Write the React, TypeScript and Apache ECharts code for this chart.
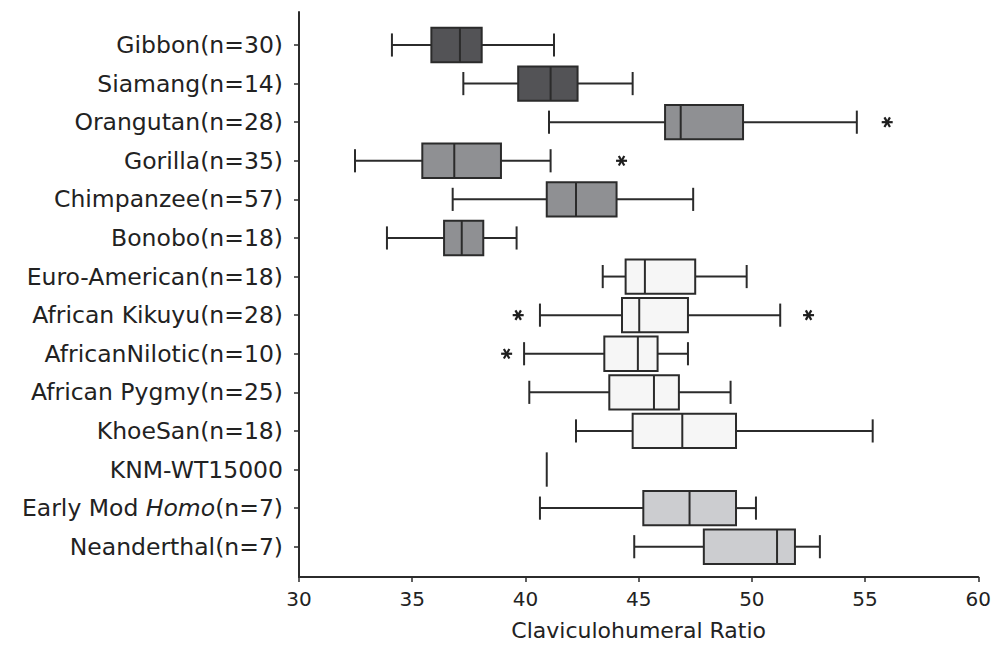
import React, { useEffect, useRef } from "react";
import * as echarts from "echarts";

// ---------- data ----------
const categories = [
  "Gibbon(n=30)",
  "Siamang(n=14)",
  "Orangutan(n=28)",
  "Gorilla(n=35)",
  "Chimpanzee(n=57)",
  "Bonobo(n=18)",
  "Euro-American(n=18)",
  "African Kikuyu(n=28)",
  "AfricanNilotic(n=10)",
  "African Pygmy(n=25)",
  "KhoeSan(n=18)",
  "KNM-WT15000",
  "Early Mod Homo(n=7)",
  "Neanderthal(n=7)",
];
const lowWhisker = [34.1, 37.25, 41.03, 32.47, 36.78, 33.88, 43.4, 40.63, 39.93, 40.16, 42.22, 40.93, 40.63, 44.79];
const q1 = [35.84, 39.67, 46.15, 35.44, 40.93, 36.4, 44.41, 44.25, 43.47, 43.69, 44.72, 40.93, 45.19, 47.86];
const median = [37.1, 41.1, 46.84, 36.85, 42.22, 37.18, 45.26, 45.01, 44.95, 45.66, 46.91, 40.93, 47.23, 51.09];
const q3 = [38.06, 42.29, 49.59, 38.91, 44.01, 38.13, 47.48, 47.16, 45.82, 46.76, 49.28, 40.93, 49.28, 51.88];
const highWhisker = [41.25, 44.72, 54.61, 41.1, 47.39, 39.6, 49.75, 51.23, 47.16, 49.04, 55.31, 40.93, 50.16, 52.98];
const groups = [
  "lesserApe", "lesserApe",
  "greatApe", "greatApe", "greatApe", "greatApe",
  "modernHuman", "modernHuman", "modernHuman", "modernHuman", "modernHuman",
  "fossil", "fossil", "fossil",
];
const outlierCategory = [2, 3, 7, 7, 8];
const outlierValue = [55.95, 44.23, 39.67, 52.48, 39.16];
const xTicks = [30, 35, 40, 45, 50, 55, 60];
const xAxisTitle = "Claviculohumeral Ratio";

// ---------- styles ----------
const groupFill: Record<string, string> = {
  lesserApe: "#535356",
  greatApe: "#8f9093",
  modernHuman: "#f6f6f6",
  fossil: "#cccdd0",
};
const INK = "#2b2b2b";
const FONT = "DejaVu Sans";

export default function App() {
  const ref = useRef<HTMLDivElement>(null);

  useEffect(() => {
    if (!ref.current) return;
    const chart = echarts.init(ref.current, undefined, { renderer: "svg" });

    const boxData = categories.map((_, i) => [i, lowWhisker[i], q1[i], median[i], q3[i], highWhisker[i]]);
    const outData = outlierCategory.map((c, i) => [outlierValue[i], c]);

    const option: any = {
      animation: false,
      backgroundColor: "#ffffff",
      grid: [
        { left: 299, right: 15, top: 25.7, height: 540.3 },
        { left: 299, right: 15, top: 12, bottom: 67 },
      ],
      xAxis: [
        { gridIndex: 0, type: "value", min: xTicks[0], max: xTicks[xTicks.length - 1], interval: 5, show: false },
        {
          gridIndex: 1,
          type: "value",
          min: xTicks[0],
          max: xTicks[xTicks.length - 1],
          interval: 5,
          axisLine: { show: true, lineStyle: { color: INK, width: 2 } },
          axisTick: { show: true, length: 5, lineStyle: { color: INK, width: 1.5 } },
          axisLabel: { margin: 12, fontSize: 20, fontFamily: FONT, color: "#222" },
          splitLine: { show: false },
          name: xAxisTitle,
          nameLocation: "middle",
          nameGap: 42,
          nameTextStyle: { fontSize: 22, fontFamily: FONT, color: "#222" },
        },
      ],
      yAxis: [
        {
          gridIndex: 0,
          type: "category",
          data: categories,
          inverse: true,
          boundaryGap: true,
          axisLine: { show: false },
          axisTick: { show: true, alignWithLabel: true, length: 5, lineStyle: { color: INK, width: 1.5 } },
          axisLabel: {
            margin: 16,
            fontSize: 23.5,
            fontFamily: FONT,
            color: "#222",
            formatter: (v: string) => {
              const m = v.match(/^(Early Mod )(Homo)(.*)$/);
              if (m) return `{n|${m[1]}}{i|${m[2]}}{n|${m[3]}}`;
              return v;
            },
            rich: {
              n: { fontSize: 23.5, fontFamily: FONT, color: "#222" },
              i: { fontSize: 23.5, fontFamily: FONT, color: "#222", fontStyle: "italic" },
            },
          },
          splitLine: { show: false },
        },
        {
          gridIndex: 1,
          type: "value",
          min: 0,
          max: 1,
          axisLine: { show: true, onZero: false, lineStyle: { color: INK, width: 2 } },
          axisTick: { show: false },
          axisLabel: { show: false },
          splitLine: { show: false },
        },
      ],
      series: [
        {
          type: "custom",
          name: "boxes",
          xAxisIndex: 0,
          yAxisIndex: 0,
          data: boxData,
          encode: { x: [1, 2, 3, 4, 5], y: 0 },
          renderItem: (params: any, api: any) => {
            const idx = params.dataIndex;
            const cat = api.value(0);
            const lo = api.coord([api.value(1), cat]);
            const a = api.coord([api.value(2), cat]);
            const m = api.coord([api.value(3), cat]);
            const b = api.coord([api.value(4), cat]);
            const hi = api.coord([api.value(5), cat]);
            const band = api.size([0, 1])[1];
            const y = lo[1];
            const bh = band * 0.89;
            const ch = band * 0.6;
            const lineStyle = { stroke: INK, lineWidth: 2 };
            const children: any[] = [];
            if (Math.abs(b[0] - a[0]) < 0.5) {
              children.push({
                type: "line",
                shape: { x1: m[0], y1: y - bh / 2, x2: m[0], y2: y + bh / 2 },
                style: lineStyle,
              });
              return { type: "group", children };
            }
            children.push(
              { type: "line", shape: { x1: lo[0], y1: y, x2: a[0], y2: y }, style: lineStyle },
              { type: "line", shape: { x1: b[0], y1: y, x2: hi[0], y2: y }, style: lineStyle },
              { type: "line", shape: { x1: lo[0], y1: y - ch / 2, x2: lo[0], y2: y + ch / 2 }, style: lineStyle },
              { type: "line", shape: { x1: hi[0], y1: y - ch / 2, x2: hi[0], y2: y + ch / 2 }, style: lineStyle },
              {
                type: "rect",
                shape: { x: a[0], y: y - bh / 2, width: b[0] - a[0], height: bh },
                style: { fill: groupFill[groups[idx]], stroke: INK, lineWidth: 2 },
              },
              { type: "line", shape: { x1: m[0], y1: y - bh / 2, x2: m[0], y2: y + bh / 2 }, style: lineStyle }
            );
            return { type: "group", children };
          },
        },
        {
          type: "custom",
          name: "outliers",
          xAxisIndex: 0,
          yAxisIndex: 0,
          data: outData,
          encode: { x: 0, y: 1 },
          renderItem: (params: any, api: any) => {
            const p = api.coord([api.value(0), api.value(1)]);
            const r = 5.5;
            const st = { stroke: "#1e1e1e", lineWidth: 2.2 };
            const arms = [0, 60, 120].map((deg) => {
              const t = (deg * Math.PI) / 180;
              const dx = Math.cos(t) * r;
              const dy = Math.sin(t) * r;
              return { type: "line", shape: { x1: p[0] - dx, y1: p[1] - dy, x2: p[0] + dx, y2: p[1] + dy }, style: st };
            });
            return { type: "group", children: arms };
          },
        },
      ],
    };

    chart.setOption(option);
    return () => chart.dispose();
  }, []);

  return (
    <div
      ref={ref}
      style={{ position: "fixed", left: 0, top: 0, width: 994, height: 646, background: "#fff" }}
    />
  );
}
